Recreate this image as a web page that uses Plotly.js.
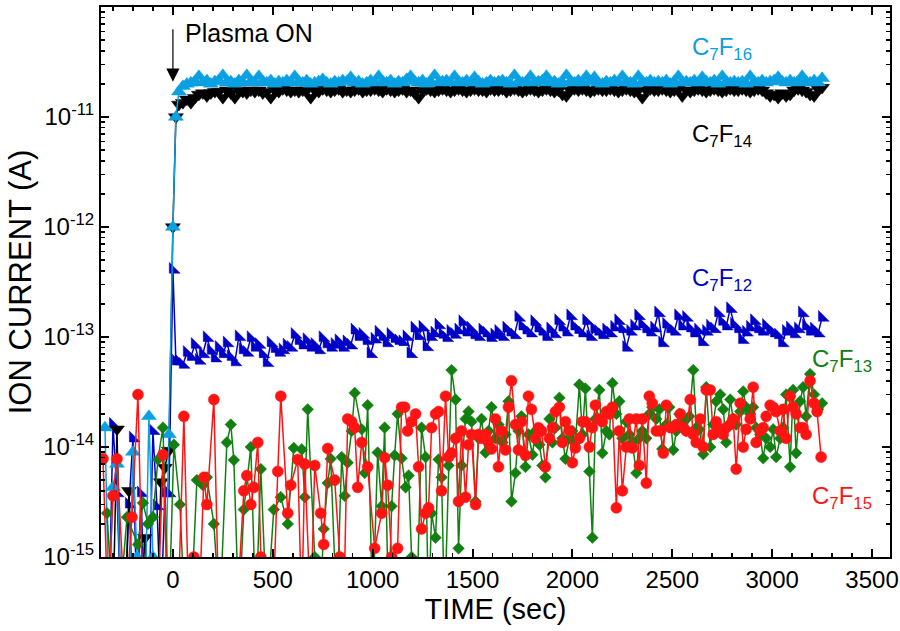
<!DOCTYPE html>
<html>
<head>
<meta charset="utf-8">
<script src="https://cdn.plot.ly/plotly-3.0.1.min.js"></script>
<style>
html,body{margin:0;padding:0;background:#fff;}
#chart{width:900px;height:631px;}
</style>
</head>
<body>
<div id="chart"></div>
<script>
// ---- data (currents in fA = 1e-15 A; 0.3 = below the axis floor) ----
// time base for the densely sampled ions (C7F12, C7F14, C7F16), seconds
const T_DENSE = [
  -340,-320,-300,-280,-260,-240,-220,-200,-180,-160,
  -140,-120,-100,-80,-60,-40,-20,
  0,15,
  30,50,70,90,110,130,150,170,190,210,
  230,250,270,290,310,330,350,370,390,410,
  430,450,470,490,510,530,550,570,590,610,
  630,650,670,690,710,730,750,770,790,810,
  830,850,870,890,910,930,950,970,990,1010,
  1030,1050,1070,1090,1110,1130,1150,1170,1190,1210,
  1230,1250,1270,1290,1310,1330,1350,1370,1390,1410,
  1430,1450,1470,1490,1510,1530,1550,1570,1590,1610,
  1630,1650,1670,1690,1710,1730,1750,1770,1790,1810,
  1830,1850,1870,1890,1910,1930,1950,1970,1990,2010,
  2030,2050,2070,2090,2110,2130,2150,2170,2190,2210,
  2230,2250,2270,2290,2310,2330,2350,2370,2390,2410,
  2430,2450,2470,2490,2510,2530,2550,2570,2590,2610,
  2630,2650,2670,2690,2710,2730,2750,2770,2790,2810,
  2830,2850,2870,2890,2910,2930,2950,2970,2990,3010,
  3030,3050,3070,3090,3110,3130,3150,3170,3190,3210,
  3230,3250
];

const C7F16 = [
  15,0.3,4.3,7,0.3,0.3,0.3,9,1,0.3,
  0.3,19,1,0.3,0.3,0.3,13,
  1000,10000,
  17000,19000,20000,20500,21000,23500,20500,21500,20000,21000,
  21500,24000,20500,21000,20000,21500,20500,24000,21000,20500,
  23500,21000,20500,21500,20000,21000,20500,21500,20500,23500,
  21000,20500,21500,20000,20500,21000,22000,20500,20000,21000,
  20500,21500,21000,23000,20500,21000,20000,20500,21500,20500,
  23500,21000,20500,21500,20000,21000,20500,22000,23500,21000,
  20500,21500,20000,21000,24000,20500,21000,21500,20500,23500,
  21000,20500,21500,20500,23000,21000,20000,20500,21500,20500,
  21000,21500,20500,20000,24000,21000,20500,21000,23500,20500,
  21000,21500,23500,20500,21000,20000,20500,24000,21000,20500,
  21500,20500,23500,21000,23000,20500,20000,21000,20500,21500,
  20500,23500,21000,20500,20000,23500,21000,20500,21500,20500,
  21000,20500,21500,20000,21000,23500,20500,21000,20500,21500,
  20500,23000,21000,20500,21500,20000,23500,21000,20500,21000,
  20500,21000,20000,23500,21000,20500,21500,20500,21000,21500,
  23000,21000,20500,21500,20500,21000,23500,21000,20500,21500,
  20500,22500
];

const C7F14 = [
  0.3,0.3,0.3,14.5,0.3,0.3,4,0.3,0.3,0.3,
  1.5,0.3,0.3,0.3,4.8,6.5,9.3,
  1000,10000,
  13000,13500,14500,13500,15000,16000,16500,15500,16500,17000,
  17000,15000,17500,16500,15000,17500,17000,16500,17500,17000,
  17500,16500,17000,15000,17500,17000,18000,17500,17000,17500,
  17000,17500,17500,15000,17500,17000,18000,17500,17000,17500,
  18000,17000,17500,17000,17500,18000,17000,17500,17500,18000,
  17500,17000,18000,17500,17000,17500,18000,17000,17500,16500,
  15000,17500,18000,17500,17000,17500,18000,17500,17000,17500,
  18000,17500,17000,17500,18000,17500,17500,17000,18000,17500,
  17500,18000,17000,17500,18000,17500,17000,17500,18000,17500,
  17000,17500,18000,17500,17000,17500,16000,15500,17500,18000,
  17500,18000,17500,17000,17500,18000,17500,17500,18000,17500,
  17000,17500,18000,17500,17000,17500,15000,17500,18000,17500,
  17500,18000,17500,17000,17500,18000,15500,17500,17000,17500,
  18000,17500,17000,17500,18000,17500,17000,17500,18000,17500,
  17500,18000,17500,17000,17500,18000,17500,16500,15500,16000,
  15000,16500,15500,16000,17500,18000,17500,17000,16000,15500,
  18000,18500
];

const C7F12 = [
  0.3,0.3,16,3.8,0.3,0.3,3,12,0.3,3.8,
  0.3,0.3,14,2.9,0.3,3.8,3.8,
  410,60,
  60,56,72,66,85,61,70,98,75,64,
  80,70,88,66,59,100,76,72,98,80,
  85,70,58,88,78,72,76,84,80,105,
  92,84,94,80,85,76,98,86,80,85,
  92,80,90,84,115,100,105,92,70,95,
  110,100,88,105,96,92,90,100,70,120,
  102,122,81,100,108,128,105,98,112,105,
  115,137,110,120,104,100,115,108,98,104,
  112,100,120,110,104,150,125,115,108,137,
  120,112,100,118,106,140,122,110,155,125,
  116,108,140,100,118,112,104,115,108,122,
  140,118,80,112,125,155,130,118,110,120,
  165,88,130,118,112,155,125,150,120,108,
  115,90,112,125,118,165,138,125,180,130,
  118,94,110,122,140,118,112,127,115,108,
  104,88,112,120,106,118,165,125,112,118,
  108,150
];

// C7F15 (red) own time base and values
const T_C7F15 = [
  -350,-325,-300,-280,-240,-205,-175,-150,-110,-75,-50,-25,
  0,25,55,80,105,130,155,170,205,230,260,290,320,355,370,390,405,425,440,470,500,
  525,540,575,590,625,645,660,690,710,740,755,775,810,835,855,875,895,910,925,945,975,
  1010,1045,1060,1075,1095,1125,1145,1160,1175,1195,1215,1230,1245,1265,1280,1295,1315,
  1330,1345,1365,1380,1395,1415,1430,1445,1465,1480,1495,1515,1530,1545,1565,1580,1595,
  1615,1630,1645,1665,1680,1695,1715,1730,1745,1765,1780,1795,1815,1830,1845,1865,1885,
  1900,1915,1935,1950,1965,1985,2000,2015,2035,2050,2065,2085,2100,2115,2135,2150,2170,
  2185,2200,2220,2235,2250,2270,2285,2300,2320,2335,2350,2370,2385,2400,2420,2440,2455,
  2470,2490,2505,2520,2540,2555,2570,2590,2605,2620,2640,2655,2670,2690,2705,2720,2740,
  2755,2770,2790,2805,2820,2840,2855,2870,2890,2905,2920,2940,2955,2970,2990,3005,3020,
  3040,3055,3070,3090,3105,3120,3140,3155,3170,3190,3210,3225,3245
];
const C7F15 = [
  7.8,0.3,3.6,7.8,0.3,2.3,30,0.3,0.3,0.3,8.5,0.3,
  0.3,0.3,19,0.3,1,0.3,5.3,3,27,0.3,0.3,0.3,0.3,4,5.5,3,4.3,11,1,0.3,0.3,
  6,29,2.5,4.5,7.7,0.3,7,0.3,6.8,2.5,1.3,9.7,5,1,0.3,18,17,15,4.3,11,6.6,
  1.2,2.5,8,4.5,1,1.2,23,23,14,17,20,6.6,1.8,2.5,2.8,15,20,
  21,4,29,8.1,8.8,12,3.2,14,3.5,10.5,13,3,13,12,13,11,9.6,
  18,6.6,14,9.4,23,40,16,9.4,17,8.4,29,22,12,15,14,6.6,12,
  15,21,23,11,17,14,7.2,9.8,12,17,17,10,15,24,18,17,21,
  20,23,2.8,14,4,10,18,9.8,18,6.8,18,4.7,29,25,14,14,8.8,
  24,15,15,16,20,15,14,27,13,11,18,10,33,33,13,17,14.5,
  13,15,16,18,6.3,25,10,14.5,18,35,11,14,15,19,24,23,21,
  14,22,12,29,23,20,15,15,13,40,25,21,8.1
];

// C7F13 (green) own time base and values
const T_C7F13 = [
  -330,-300,-270,-230,-175,-150,-125,-100,-75,-50,-20,
  5,35,60,90,120,150,170,205,235,270,290,305,330,355,390,415,440,470,505,540,575,
  605,645,660,675,710,735,755,775,790,820,845,860,875,895,910,945,960,975,
  1000,1025,1045,1060,1080,1095,1110,1125,1145,1165,1180,1195,1220,1245,1265,1280,1295,1315,
  1330,1345,1360,1380,1395,1415,1430,1445,1465,1480,1495,1515,1530,1545,1565,1580,1595,
  1615,1630,1650,1665,1680,1695,1715,1730,1745,1765,1780,1800,1815,1835,1850,1865,1885,
  1900,1915,1935,1950,1965,1985,2000,2015,2035,2050,2065,2085,2100,2115,2135,2150,2170,
  2185,2200,2220,2235,2250,2270,2285,2300,2320,2335,2350,2370,2385,2400,2420,2435,2450,
  2470,2485,2505,2520,2535,2555,2570,2585,2605,2620,2635,2655,2670,2690,2705,2720,2740,
  2755,2770,2790,2805,2820,2840,2855,2870,2890,2905,2920,2940,2955,2970,2990,3005,3020,
  3040,3055,3070,3090,3105,3120,3140,3155,3170,3190,3210,3230,3250
];
const C7F13 = [
  2.5,0.3,0.3,2.3,1.3,3.1,2,2.3,7.7,15,0.3,
  10.5,3,0.3,0.3,5,4.5,5.3,2,0.3,11,16,7.6,0.3,2.7,10,0.3,6.3,0.3,2.7,3.5,2,
  9.8,9.5,3.5,22,1,0.3,1.8,4.7,7.8,0.3,8.1,3.6,7.2,14,31,14.5,5.8,24,
  0.3,8.9,2.9,15,0.3,2.9,8.4,20,7.9,4.3,5.5,1,0.3,15,8.1,0.3,2.5,1.5,
  7.7,5.3,0.3,6.8,50,27,1.2,6.8,18,21,17,3.2,12,18,8.9,14,23,
  12,16,11,13,26,3.2,5.8,14,19,6.6,13,8.5,14,10.5,6.8,5.3,18,
  11,15,28,12,7.8,12,14,11,37,13,34,6,1.5,18,33,8.8,14,
  13,38,20,26,12,17,13,11,5.8,12,14,12,20,23,18,22,9.6,
  16,23,9.4,14,20,17,14,19,50,15,14.5,8.6,35,10,16,26,30,
  22,11,27,18,16,21,32,23,20,23,15,13,7.9,12,10,14.5,8.1,
  12,15,30,6.6,33,8.8,26,35,19,46,30,22,25
];

const FA = 1e-15; // fA -> A
const toA = arr => arr.map(v => v * FA);

const Y_TICK_VALS = [1e-15, 1e-14, 1e-13, 1e-12, 1e-11];
const Y_TICK_TEXT = ['10<sup>-15</sup>','10<sup>-14</sup>','10<sup>-13</sup>','10<sup>-12</sup>','10<sup>-11</sup>'];

// ---- styling ----
const FONT = 'Liberation Sans, Arial, sans-serif';
const COL = {
  c16: '#0AA0E2',
  c14: '#000000',
  c12: '#0000C8',
  c13: '#118011',
  c15: '#FF1414'
};

function tr(x, y, color, symbol, size) {
  return {
    type: 'scatter', mode: 'lines+markers',
    x: x, y: toA(y),
    line: {color: color, width: 1.5},
    marker: {color: color, symbol: symbol, size: size, line: {width: 0.5, color: color}},
    cliponaxis: true, showlegend: false, hoverinfo: 'skip'
  };
}

const data = [
  tr(T_DENSE, C7F12, COL.c12, 'triangle-sw', 12),
  tr(T_DENSE, C7F14, COL.c14, 'triangle-down', 13),
  tr(T_DENSE, C7F16, COL.c16, 'triangle-up', 13),
  tr(T_C7F13, C7F13, COL.c13, 'diamond', 9),
  tr(T_C7F15, C7F15, COL.c15, 'circle', 11)
];

function lbl(x, ly, html, color) {
  return {x: x, y: ly, xref: 'x', yref: 'y', text: html, showarrow: false,
    xanchor: 'center', yanchor: 'middle', font: {family: FONT, size: 24, color: color}};
}

const layout = {
  width: 900, height: 631,
  margin: {l: 101, r: 10, t: 7, b: 74, pad: 0},
  paper_bgcolor: '#fff', plot_bgcolor: '#fff',
  font: {family: FONT, size: 24, color: '#000'},
  showlegend: false,
  xaxis: {
    range: [-360, 3590], tick0: 0, dtick: 500,
    showline: true, linewidth: 2, linecolor: '#000', mirror: 'allticks',
    ticks: 'inside', ticklen: 8, tickwidth: 2, tickcolor: '#000',
    minor: {dtick: 100, ticks: 'inside', ticklen: 4, tickwidth: 1.5, tickcolor: '#000', showgrid: false},
    showgrid: false, zeroline: false, automargin: false,
    tickfont: {family: FONT, size: 24, color: '#000'},
    title: {text: 'TIME (sec)', font: {family: FONT, size: 29, color: '#000'}, standoff: 6}
  },
  yaxis: {
    type: 'log', range: [-15, -10],
    tickmode: 'array', tickvals: Y_TICK_VALS, ticktext: Y_TICK_TEXT,
    showline: true, linewidth: 2, linecolor: '#000', mirror: 'allticks',
    ticks: 'inside', ticklen: 8, tickwidth: 2, tickcolor: '#000',
    minor: {dtick: 'D1', ticks: 'inside', ticklen: 4, tickwidth: 1.5, tickcolor: '#000', showgrid: false},
    showgrid: false, zeroline: false, automargin: false,
    tickfont: {family: FONT, size: 24, color: '#000'},
    title: {text: 'ION CURRENT (A)', font: {family: FONT, size: 31, color: '#000'}, standoff: 2}
  },
  annotations: [
    {x: 0, y: -10.68, xref: 'x', yref: 'y', text: '', showarrow: true,
     ax: 0, ay: -54, axref: 'pixel', ayref: 'pixel',
     arrowhead: 2, arrowsize: 2.2, arrowwidth: 1.2, arrowcolor: '#000'},
    {x: 50, y: -10.236, xref: 'x', yref: 'y', text: 'Plasma ON', showarrow: false,
     xanchor: 'left', yanchor: 'middle', font: {family: FONT, size: 25, color: '#000'}},
    lbl(2750, -10.373, 'C<sub>7</sub>F<sub>16</sub>', COL.c16),
    lbl(2750, -11.164, 'C<sub>7</sub>F<sub>14</sub>', COL.c14),
    lbl(2750, -12.48, 'C<sub>7</sub>F<sub>12</sub>', COL.c12),
    lbl(3350, -13.21, 'C<sub>7</sub>F<sub>13</sub>', COL.c13),
    lbl(3350, -14.455, 'C<sub>7</sub>F<sub>15</sub>', COL.c15)
  ]
};

Plotly.newPlot('chart', data, layout, {staticPlot: true, displayModeBar: false});
</script>
</body>
</html>
